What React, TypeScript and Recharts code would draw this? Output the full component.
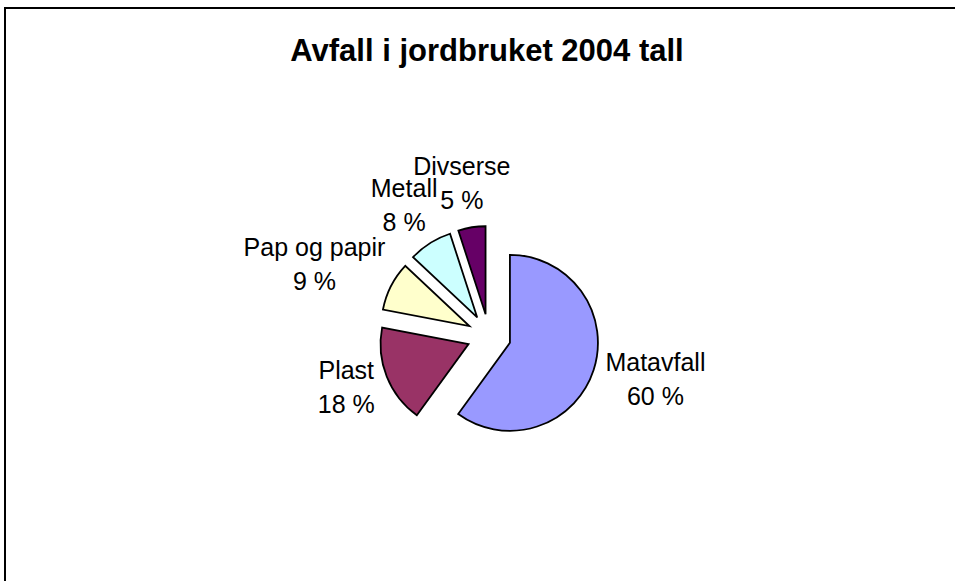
import { PieChart, Pie, Cell, Sector } from 'recharts';

const categories = ['Matavfall', 'Plast', 'Pap og papir', 'Metall', 'Divserse'];
const shares = [60, 18, 9, 8, 5];
const sliceColors = ['#9999FF', '#993366', '#FFFFCC', '#CCFFFF', '#660066'];

const data = categories.map((name, i) => ({ name, value: shares[i] }));

const RAD = Math.PI / 180;
const EXPLODE = 22;
const FONT = '"Liberation Sans", Arial, sans-serif';
const LABEL_SIZE = 25;

let ctx: CanvasRenderingContext2D | null = null;
function textWidth(s: string) {
  if (!ctx) ctx = document.createElement('canvas').getContext('2d');
  if (!ctx) return s.length * LABEL_SIZE * 0.5;
  ctx.font = `${LABEL_SIZE}px ${FONT}`;
  return ctx.measureText(s).width;
}

// every slice pulled out from the centre along its mid angle (excel "explode")
function ExplodedSector(props: any) {
  const { cx, cy, midAngle } = props;
  const dx = EXPLODE * Math.cos(-midAngle * RAD);
  const dy = EXPLODE * Math.sin(-midAngle * RAD);
  return <Sector {...props} cx={cx + dx} cy={cy + dy} />;
}

function SliceLabel(props: any) {
  const { cx, cy, midAngle, name, value } = props;
  const ux = Math.cos(-midAngle * RAD);
  const uy = Math.sin(-midAngle * RAD);
  const pct = `${value} %`;
  const w = Math.max(textWidth(name), textWidth(pct));
  const h = 51;
  const x = cx + 125 * ux + (ux * w) / 2;
  const y = cy + 125 * uy + (uy * h) / 2 + 5;
  return (
    <text textAnchor="middle" fill="#000" style={{ fontFamily: FONT, fontSize: LABEL_SIZE }}>
      <tspan x={x} y={y - 17}>{name}</tspan>
      <tspan x={x} y={y + 17}>{pct}</tspan>
    </text>
  );
}

export default function App() {
  return (
    <div style={{ position: 'absolute', left: 0, top: 0, width: 955, height: 581, overflow: 'hidden', background: '#fff' }}>
      <div
        style={{
          position: 'absolute',
          left: 4,
          top: 7,
          width: 1000,
          height: 700,
          border: '2px solid #000',
        }}
      />
      <div
        style={{
          position: 'absolute',
          left: 187,
          top: 35,
          width: 600,
          textAlign: 'center',
          fontFamily: FONT,
          fontWeight: 'bold',
          fontSize: 31,
          lineHeight: '31px',
          color: '#000',
        }}
      >
        Avfall i jordbruket 2004 tall
      </div>
      <div style={{ position: 'absolute', left: 0, top: 0 }}>
        <PieChart width={955} height={581} margin={{ top: 0, right: 0, bottom: 0, left: 0 }}>
          <Pie
            data={data}
            dataKey="value"
            nameKey="name"
            cx={489}
            cy={336}
            outerRadius={88}
            startAngle={90}
            endAngle={-270}
            stroke="#000"
            strokeWidth={1.8}
            shape={ExplodedSector}
            label={SliceLabel}
            labelLine={false}
            isAnimationActive={false}
          >
            {data.map((d, i) => (
              <Cell key={d.name} fill={sliceColors[i]} />
            ))}
          </Pie>
        </PieChart>
      </div>
    </div>
  );
}
